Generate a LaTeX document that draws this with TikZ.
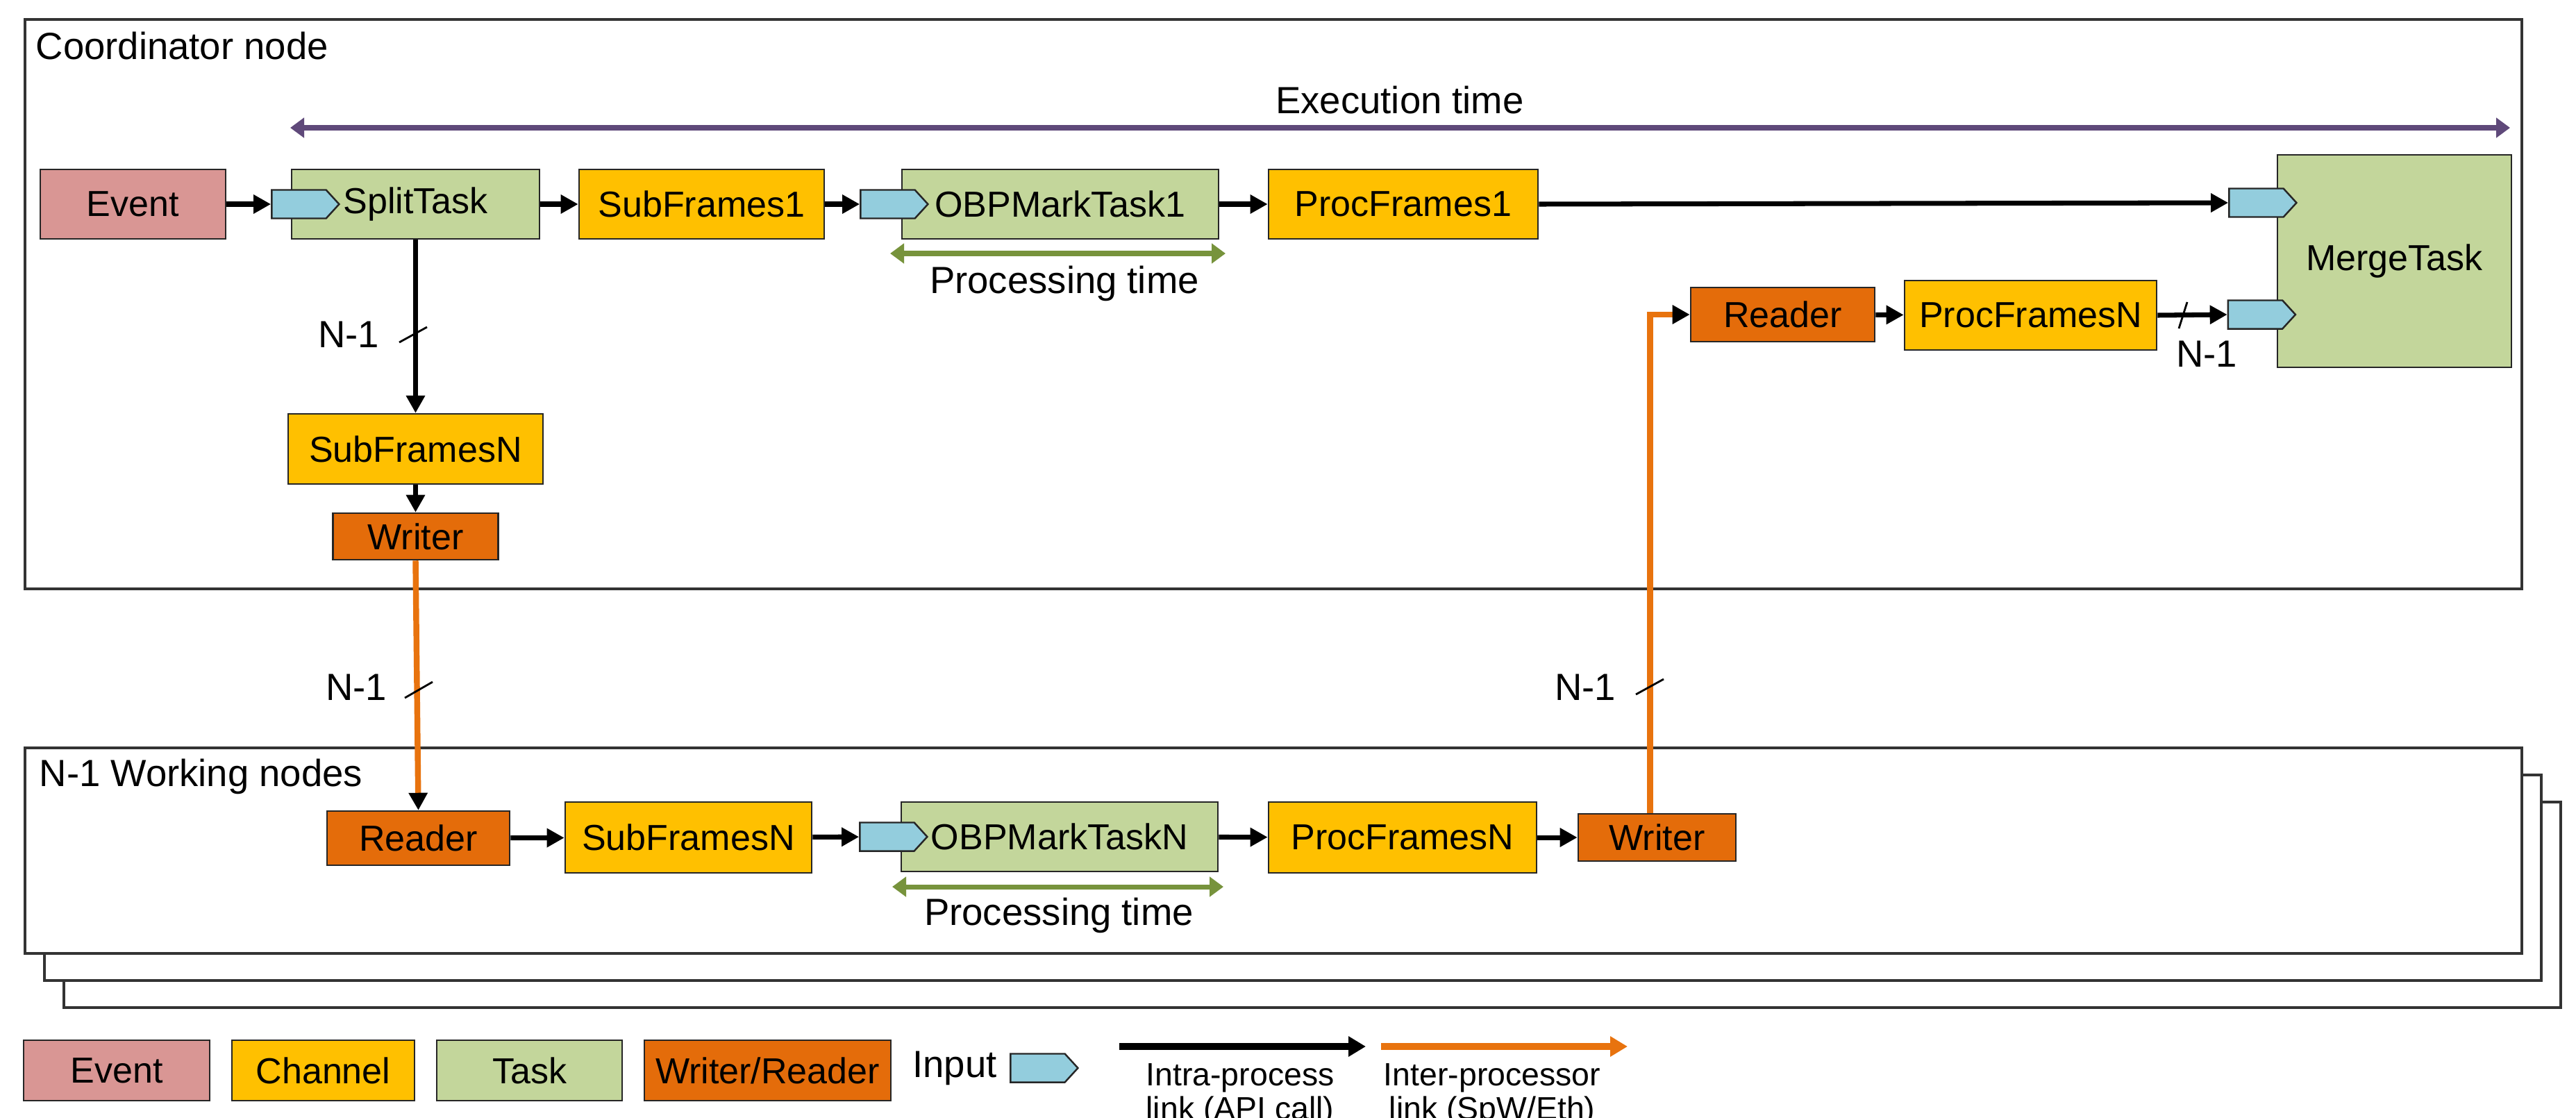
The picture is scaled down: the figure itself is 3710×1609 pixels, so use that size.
\documentclass[tikz,border=0pt]{standalone}
\usepackage{fontspec}
\setmainfont{Liberation Sans}
\usepackage{xcolor}
\usepackage{tikz}
\usetikzlibrary{calc}
\usetikzlibrary{arrows.meta}
\usetikzlibrary{shapes.symbols}
\definecolor{cEvent}{HTML}{D99694}
\definecolor{cChan}{HTML}{FFC000}
\definecolor{cTask}{HTML}{C3D69B}
\definecolor{cWR}{HTML}{E46C0A}
\definecolor{cIn}{HTML}{93CDDD}
\definecolor{cExec}{HTML}{5F497A}
\definecolor{cProc}{HTML}{77933C}
\definecolor{cLink}{HTML}{E8730E}
\tikzset{
  txt/.style={inner sep=0pt, font=\fontsize{15.5}{18}\selectfont},
  box/.style={txt, font=\fontsize{14.8}{18}\selectfont, draw=black!85, line width=0.7pt, minimum height=1cm},
  evbox/.style={box, fill=cEvent},
  chbox/.style={box, fill=cChan},
  tkbox/.style={box, fill=cTask},
  wrbox/.style={box, fill=cWR},
  inport/.style={signal, signal to=east, signal pointer angle=95, draw=black!85,
    line width=0.7pt, fill=cIn, inner sep=0pt, minimum width=0.97cm, minimum height=0.41cm},
  frame/.style={draw=black!80, line width=0.9pt, fill=white},
  flow/.style={line width=2pt, -{Triangle[length=0.25cm,width=0.26cm]}},
  link/.style={draw=cLink, line width=2.4pt, -{Triangle[length=0.25cm,width=0.26cm,color=black]}},
  span/.style={line width=2pt, {Triangle[length=0.2cm,width=0.28cm]}-{Triangle[length=0.2cm,width=0.28cm]}},
  cut/.style={line width=0.8pt},
  small/.style={inner sep=0pt, font=\fontsize{13.2}{16}\selectfont}
}
\begin{document}
\begin{tikzpicture}[x=0.01cm, y=-0.01cm]
\useasboundingbox (0,0) rectangle (3710,1609);

% coordinator node
\draw[frame] (36,28) rectangle (3632,848);
\node[txt, anchor=west] (coordlbl) at (51,66) {Coordinator node};
\coordinate (exs) at (418,184);
\coordinate (exe) at (3615,184);
\draw[span, cExec] (exs) -- (exe);
\node[txt] (exlbl) at (2016,144) {Execution time};

\node[evbox, minimum width=2.67cm] (event) at (191.5,294) {Event};
\node[tkbox, minimum width=3.57cm] (split) at (598.5,294) {SplitTask};
\node[inport] (insplit) at (430.5,294) {};
\node[chbox, minimum width=3.53cm] (sub1) at (1010.5,294) {SubFrames1};
\node[tkbox, minimum width=4.56cm] (obp1) at (1527,294) {OBPMarkTask1};
\node[inport] (inobp1) at (1278.5,294) {};
\node[chbox, minimum width=3.88cm] (proc1) at (2021,294) {ProcFrames1};
\node[tkbox, minimum width=3.37cm, minimum height=3.06cm] (merge) at (3448.5,376) {MergeTask};
\node[inport] (inmrg1) at (3249.5,292) {};
\node[inport] (inmrg2) at (3248,453) {};
\node[wrbox, minimum width=2.65cm, minimum height=0.78cm] (rdc) at (2567.5,453) {Reader};
\node[chbox, minimum width=3.63cm] (procnc) at (2924.5,454) {ProcFramesN};
\node[chbox, minimum width=3.67cm, minimum height=1.01cm] (subnc) at (598.5,646.5) {SubFramesN};
\node[wrbox, minimum width=2.38cm, minimum height=0.67cm] (wrc) at (598.5,772.5) {Writer};

\coordinate (pt1s) at (1282,365);
\coordinate (pt1e) at (1765,365);
\draw[span, cProc] (pt1s) -- (pt1e);
\node[txt] (pt1lbl) at (1533,408) {Processing time};

\draw[flow] (event) -- (insplit);
\draw[flow] (split) -- (sub1);
\draw[flow] (sub1) -- (inobp1);
\draw[flow] (obp1) -- (proc1);
\draw[flow] (proc1.east) -- (inmrg1.west);
\draw[flow] (rdc) -- (procnc);
\draw[flow] (procnc.east) -- (inmrg2.west);
\draw[flow] (split) -- (subnc);
\draw[flow] (subnc) -- (wrc);
\draw[cut] (3138,473) -- (3150,435);
\node[txt] (nm1a) at (3178,510) {N-1};
\draw[cut] (575,493) -- (615,471);
\node[txt] (nm1b) at (502,482) {N-1};

% working nodes
\draw[frame] (92,1155) rectangle (3688,1451);
\draw[frame] (64,1116) rectangle (3660,1412);
\draw[frame] (36,1077) rectangle (3632,1373);
\node[txt, anchor=west] (worklbl) at (56,1118) {N-1 Working nodes};

\node[wrbox, minimum width=2.63cm, minimum height=0.78cm] (rdw) at (602.5,1207) {Reader};
\node[chbox, minimum width=3.55cm, minimum height=1.02cm] (subnw) at (991.5,1206) {SubFramesN};
\node[tkbox, minimum width=4.56cm] (obpn) at (1526,1205) {OBPMarkTaskN};
\node[inport] (inobpn) at (1277.5,1205) {};
\node[chbox, minimum width=3.86cm, minimum height=1.02cm] (procnw) at (2020,1206) {ProcFramesN};
\node[wrbox, minimum width=2.27cm, minimum height=0.68cm] (wrw) at (2386.5,1206) {Writer};

\coordinate (pt2s) at (1285,1277);
\coordinate (pt2e) at (1762,1277);
\draw[span, cProc] (pt2s) -- (pt2e);
\node[txt] (pt2lbl) at (1525,1318) {Processing time};

\draw[flow] (rdw) -- (subnw);
\draw[flow] (subnw) -- (inobpn);
\draw[flow] (obpn) -- (procnw);
\draw[flow] (procnw) -- (wrw);

% links between processors
\draw[link] (wrc.south) -- (rdw.north);
\draw[link] ([xshift=-0.1cm]wrw.north) |- (rdc.west);
\draw[cut] (583,1005) -- (623,982);
\node[txt] (nm1c) at (513,990) {N-1};
\draw[cut] (2356,1000) -- (2396,978);
\node[txt] (nm1d) at (2283,990) {N-1};

% legend
\node[evbox, minimum width=2.68cm, minimum height=0.87cm] (lgev) at (168,1541.5) {Event};
\node[chbox, minimum width=2.63cm, minimum height=0.87cm] (lgch) at (465.5,1541.5) {Channel};
\node[tkbox, minimum width=2.67cm, minimum height=0.87cm] (lgtk) at (762.5,1541.5) {Task};
\node[wrbox, minimum width=3.55cm, minimum height=0.87cm] (lgwr) at (1105.5,1541.5) {Writer/Reader};
\node[txt] (lgin) at (1375,1538) {Input};
\node[inport] (lgport) at (1494.5,1538) {};
\coordinate (lga1) at (1612,1507);
\coordinate (lga2) at (1967,1507);
\coordinate (lgb1) at (1989,1507);
\coordinate (lgb2) at (2344,1507);
\draw[line width=2.8pt, -{Triangle[length=0.25cm,width=0.28cm]}] (lga1) -- (lga2);
\draw[line width=2.8pt, cLink, -{Triangle[length=0.25cm,width=0.28cm]}] (lgb1) -- (lgb2);
\node[small] (lgintra) at (1786,1552) {Intra-process};
\node[small] (lgintra2) at (1786,1600) {link (API call)};
\node[small] (lginter) at (2149,1552) {Inter-processor};
\node[small] (lginter2) at (2149,1600) {link (SpW/Eth)};
\end{tikzpicture}
\end{document}
